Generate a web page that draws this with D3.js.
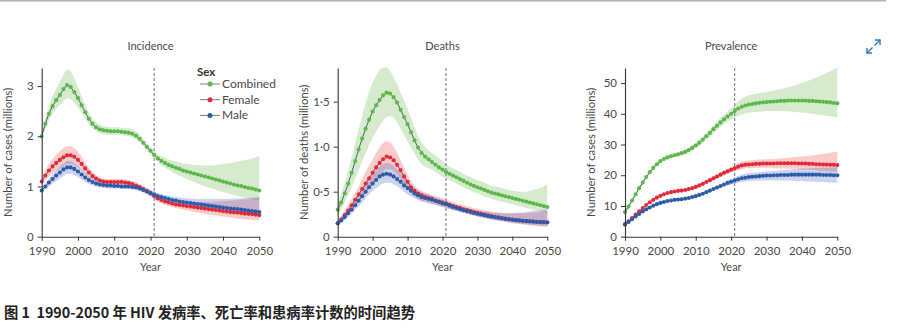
<!DOCTYPE html>
<html><head><meta charset="utf-8">
<script src="https://cdn.jsdelivr.net/npm/d3@7"></script>
<style>
body{margin:0;background:#fff;}
text{font-family:Lato,"Noto Sans",sans-serif;}
</style></head>
<body><svg id="c" width="909" height="335"></svg>
<script>
// ---------- DATA ----------
const years = d3.range(1990, 2051);
const xTicks = [1990, 2000, 2010, 2020, 2030, 2040, 2050];
const panelTitles = ["Incidence", "Deaths", "Prevalence"];
const yLabels = ["Number of cases (millions)", "Number of deaths (millions)", "Number of cases (millions)"];
const incTicks = [0, 1, 2, 3];
const incTickLabels = ["0", "1", "2", "3"];
const dthTicks = [0, 0.5, 1.0, 1.5];
const dthTickLabels = ["0", "0·5", "1·0", "1·5"];
const prvTicks = [0, 10, 20, 30, 40, 50];
const prvTickLabels = ["0", "10", "20", "30", "40", "50"];
const seriesNames = ["Combined", "Female", "Male"];
const projectionStart = 2021;

const incCombined = [2.00,2.25,2.45,2.60,2.72,2.82,2.94,3.02,2.98,2.88,2.76,2.62,2.48,2.35,2.25,2.18,2.14,2.12,2.11,2.10,2.10,2.10,2.09,2.08,2.07,2.05,2.01,1.95,1.87,1.79,1.71,1.63,1.56,1.51,1.47,1.43,1.40,1.37,1.35,1.32,1.30,1.28,1.26,1.24,1.22,1.20,1.18,1.16,1.14,1.12,1.10,1.08,1.06,1.04,1.02,1.01,0.99,0.97,0.96,0.94,0.92];
const incCombinedLo = [1.95,2.15,2.32,2.45,2.55,2.63,2.70,2.76,2.74,2.67,2.58,2.47,2.36,2.25,2.16,2.10,2.06,2.04,2.03,2.03,2.03,2.03,2.02,2.01,2.00,1.98,1.94,1.88,1.81,1.73,1.65,1.57,1.49,1.43,1.38,1.33,1.29,1.25,1.22,1.18,1.15,1.12,1.09,1.06,1.03,1.00,0.98,0.96,0.94,0.91,0.89,0.87,0.85,0.83,0.81,0.79,0.78,0.76,0.75,0.73,0.72];
const incCombinedHi = [2.05,2.35,2.60,2.80,2.95,3.08,3.22,3.33,3.30,3.15,2.98,2.80,2.62,2.47,2.36,2.28,2.23,2.20,2.19,2.18,2.18,2.18,2.17,2.16,2.16,2.14,2.10,2.04,1.95,1.86,1.78,1.70,1.64,1.60,1.57,1.54,1.52,1.50,1.48,1.46,1.45,1.44,1.43,1.43,1.42,1.42,1.42,1.42,1.43,1.44,1.45,1.46,1.47,1.48,1.50,1.51,1.53,1.54,1.56,1.58,1.60];
const incFemale = [1.10,1.22,1.32,1.40,1.47,1.53,1.58,1.62,1.62,1.59,1.53,1.45,1.36,1.28,1.21,1.16,1.12,1.10,1.09,1.09,1.09,1.09,1.09,1.08,1.07,1.05,1.02,0.99,0.95,0.91,0.86,0.81,0.76,0.73,0.70,0.68,0.66,0.64,0.63,0.62,0.61,0.60,0.59,0.58,0.57,0.56,0.55,0.54,0.53,0.52,0.51,0.50,0.49,0.485,0.48,0.47,0.46,0.455,0.45,0.44,0.43];
const incFemaleLo = [1.05,1.13,1.20,1.26,1.31,1.36,1.41,1.45,1.45,1.43,1.38,1.32,1.25,1.19,1.13,1.09,1.06,1.04,1.03,1.03,1.03,1.03,1.03,1.02,1.01,0.99,0.96,0.93,0.89,0.85,0.80,0.75,0.70,0.66,0.63,0.61,0.59,0.57,0.55,0.54,0.52,0.51,0.49,0.48,0.47,0.45,0.44,0.43,0.42,0.41,0.40,0.39,0.38,0.37,0.36,0.36,0.35,0.34,0.34,0.33,0.33];
const incFemaleHi = [1.15,1.31,1.45,1.55,1.63,1.70,1.76,1.80,1.80,1.76,1.69,1.59,1.48,1.38,1.30,1.23,1.18,1.16,1.15,1.15,1.15,1.15,1.15,1.14,1.13,1.11,1.08,1.05,1.01,0.97,0.92,0.87,0.82,0.79,0.77,0.75,0.73,0.72,0.71,0.70,0.70,0.69,0.69,0.69,0.69,0.69,0.69,0.69,0.70,0.70,0.71,0.71,0.72,0.72,0.73,0.74,0.74,0.75,0.76,0.77,0.78];
const incMale = [0.92,1.00,1.08,1.15,1.22,1.28,1.34,1.38,1.38,1.35,1.30,1.24,1.18,1.13,1.09,1.06,1.04,1.03,1.02,1.02,1.01,1.01,1.00,1.00,1.00,0.99,0.98,0.96,0.93,0.90,0.87,0.84,0.81,0.79,0.77,0.75,0.73,0.72,0.70,0.69,0.68,0.67,0.66,0.65,0.64,0.63,0.62,0.61,0.60,0.59,0.58,0.57,0.56,0.555,0.55,0.54,0.53,0.52,0.51,0.50,0.49];
const incMaleLo = [0.88,0.94,1.00,1.06,1.11,1.16,1.21,1.25,1.25,1.23,1.19,1.14,1.09,1.05,1.02,0.99,0.98,0.97,0.96,0.96,0.96,0.96,0.95,0.95,0.95,0.94,0.93,0.91,0.88,0.85,0.82,0.79,0.76,0.73,0.71,0.69,0.67,0.65,0.64,0.62,0.61,0.60,0.58,0.57,0.56,0.55,0.54,0.52,0.51,0.50,0.49,0.48,0.47,0.46,0.45,0.45,0.44,0.43,0.42,0.41,0.40];
const incMaleHi = [0.96,1.06,1.16,1.24,1.32,1.40,1.46,1.51,1.51,1.47,1.41,1.34,1.27,1.21,1.16,1.13,1.10,1.09,1.08,1.08,1.07,1.07,1.06,1.06,1.06,1.05,1.04,1.02,0.99,0.96,0.93,0.90,0.87,0.85,0.83,0.82,0.80,0.79,0.78,0.77,0.77,0.76,0.76,0.75,0.75,0.75,0.75,0.75,0.75,0.75,0.75,0.75,0.75,0.76,0.76,0.76,0.77,0.77,0.78,0.78,0.79];

const dthCombined = [0.30,0.38,0.48,0.59,0.71,0.84,0.97,1.09,1.20,1.30,1.39,1.46,1.52,1.57,1.60,1.59,1.55,1.49,1.41,1.33,1.25,1.16,1.07,0.99,0.93,0.89,0.86,0.83,0.80,0.77,0.745,0.72,0.70,0.68,0.66,0.64,0.62,0.60,0.58,0.565,0.55,0.535,0.52,0.505,0.49,0.48,0.47,0.46,0.45,0.44,0.43,0.42,0.41,0.40,0.39,0.38,0.37,0.36,0.35,0.34,0.33];
const dthCombinedLo = [0.25,0.31,0.38,0.46,0.55,0.64,0.74,0.84,0.93,1.02,1.10,1.17,1.23,1.29,1.33,1.34,1.32,1.27,1.20,1.13,1.06,0.99,0.92,0.86,0.81,0.78,0.76,0.74,0.72,0.69,0.67,0.65,0.63,0.61,0.59,0.57,0.55,0.53,0.51,0.495,0.48,0.465,0.45,0.435,0.42,0.41,0.40,0.39,0.38,0.37,0.36,0.35,0.34,0.33,0.32,0.31,0.30,0.29,0.28,0.27,0.26];
const dthCombinedHi = [0.38,0.48,0.60,0.73,0.88,1.03,1.19,1.34,1.48,1.61,1.71,1.79,1.85,1.88,1.88,1.84,1.77,1.69,1.60,1.51,1.42,1.32,1.22,1.12,1.05,1.00,0.96,0.93,0.90,0.87,0.84,0.81,0.78,0.76,0.74,0.72,0.70,0.68,0.66,0.645,0.63,0.615,0.60,0.585,0.57,0.56,0.55,0.54,0.53,0.52,0.51,0.505,0.50,0.50,0.50,0.51,0.52,0.53,0.545,0.56,0.58];
const dthFemale = [0.15,0.19,0.24,0.29,0.35,0.41,0.47,0.53,0.59,0.65,0.71,0.77,0.82,0.86,0.89,0.88,0.85,0.80,0.74,0.67,0.61,0.55,0.51,0.48,0.46,0.44,0.43,0.42,0.40,0.39,0.38,0.37,0.355,0.34,0.33,0.32,0.305,0.295,0.285,0.275,0.265,0.255,0.245,0.237,0.23,0.222,0.215,0.208,0.202,0.196,0.19,0.186,0.182,0.178,0.175,0.172,0.169,0.166,0.164,0.162,0.16];
const dthFemaleLo = [0.12,0.16,0.20,0.24,0.29,0.34,0.39,0.44,0.49,0.54,0.59,0.64,0.68,0.72,0.75,0.75,0.73,0.69,0.64,0.58,0.53,0.48,0.45,0.42,0.40,0.39,0.38,0.37,0.355,0.345,0.335,0.325,0.31,0.30,0.29,0.28,0.265,0.255,0.245,0.235,0.225,0.215,0.205,0.197,0.19,0.182,0.175,0.168,0.162,0.156,0.15,0.145,0.14,0.136,0.132,0.128,0.124,0.12,0.117,0.114,0.11];
const dthFemaleHi = [0.18,0.23,0.29,0.35,0.42,0.49,0.56,0.64,0.72,0.79,0.86,0.93,0.99,1.04,1.06,1.05,1.00,0.93,0.85,0.77,0.69,0.62,0.57,0.53,0.51,0.49,0.48,0.46,0.45,0.44,0.43,0.415,0.40,0.385,0.37,0.36,0.35,0.34,0.33,0.32,0.31,0.30,0.29,0.285,0.28,0.275,0.27,0.265,0.26,0.26,0.26,0.26,0.26,0.26,0.26,0.265,0.27,0.27,0.275,0.28,0.28];
const dthMale = [0.15,0.18,0.22,0.26,0.30,0.35,0.40,0.45,0.50,0.55,0.59,0.63,0.67,0.69,0.70,0.69,0.67,0.64,0.61,0.57,0.54,0.51,0.48,0.46,0.44,0.43,0.42,0.41,0.40,0.385,0.37,0.36,0.345,0.33,0.318,0.306,0.295,0.284,0.274,0.264,0.255,0.246,0.238,0.23,0.223,0.216,0.21,0.204,0.198,0.193,0.188,0.184,0.18,0.176,0.173,0.17,0.167,0.164,0.162,0.16,0.158];
const dthMaleLo = [0.12,0.15,0.18,0.22,0.26,0.30,0.34,0.38,0.43,0.47,0.51,0.54,0.57,0.59,0.60,0.60,0.58,0.56,0.53,0.50,0.47,0.45,0.43,0.41,0.39,0.38,0.37,0.36,0.355,0.345,0.33,0.32,0.305,0.295,0.285,0.275,0.265,0.255,0.245,0.235,0.225,0.215,0.207,0.20,0.193,0.186,0.18,0.174,0.168,0.162,0.157,0.152,0.147,0.142,0.138,0.134,0.13,0.126,0.122,0.118,0.115];
const dthMaleHi = [0.18,0.22,0.27,0.31,0.36,0.42,0.47,0.53,0.59,0.65,0.70,0.74,0.78,0.81,0.82,0.81,0.79,0.75,0.71,0.66,0.62,0.58,0.54,0.51,0.49,0.48,0.47,0.455,0.44,0.425,0.41,0.395,0.38,0.365,0.35,0.34,0.33,0.32,0.31,0.30,0.29,0.285,0.28,0.275,0.27,0.265,0.26,0.26,0.26,0.26,0.26,0.265,0.27,0.27,0.275,0.28,0.285,0.29,0.295,0.30,0.30];

const prvCombined = [8.0,9.8,11.8,13.8,15.8,17.6,19.4,21.0,22.4,23.6,24.6,25.3,25.8,26.2,26.5,26.8,27.2,27.6,28.2,28.9,29.7,30.6,31.6,32.7,33.8,35.0,36.1,37.2,38.2,39.1,40.0,40.9,41.7,42.3,42.7,43.0,43.2,43.4,43.6,43.7,43.8,43.9,44.0,44.1,44.2,44.2,44.3,44.3,44.3,44.3,44.3,44.3,44.2,44.2,44.1,44.0,43.9,43.8,43.7,43.5,43.4];
const prvCombinedLo = [7.5,9.3,11.3,13.3,15.3,17.1,18.9,20.4,21.8,23.0,24.0,24.7,25.2,25.6,25.9,26.2,26.5,26.9,27.4,28.1,28.8,29.6,30.6,31.6,32.6,33.7,34.7,35.7,36.6,37.4,38.1,38.8,39.4,39.8,40.1,40.3,40.5,40.6,40.7,40.8,40.9,40.9,40.9,40.9,40.9,40.8,40.8,40.7,40.6,40.5,40.4,40.3,40.1,40.0,39.8,39.7,39.5,39.4,39.2,39.0,38.8];
const prvCombinedHi = [8.5,10.3,12.3,14.3,16.3,18.1,19.9,21.6,23.0,24.2,25.2,25.9,26.4,26.8,27.1,27.4,27.8,28.3,29.0,29.7,30.6,31.6,32.7,33.8,35.0,36.3,37.5,38.7,39.8,40.8,41.8,42.9,44.0,44.9,45.6,46.0,46.3,46.5,46.7,46.9,47.1,47.3,47.5,47.8,48.0,48.3,48.6,48.9,49.2,49.6,50.0,50.4,50.8,51.3,51.8,52.3,52.8,53.3,53.9,54.5,55.0];
const prvFemale = [4.0,5.0,6.1,7.2,8.3,9.3,10.3,11.2,12.0,12.7,13.3,13.8,14.2,14.5,14.7,14.9,15.0,15.2,15.5,15.8,16.2,16.7,17.2,17.8,18.4,19.0,19.6,20.2,20.8,21.3,21.8,22.3,22.8,23.2,23.4,23.5,23.6,23.7,23.7,23.8,23.8,23.8,23.8,23.9,23.9,23.9,23.9,23.9,23.9,23.8,23.8,23.8,23.7,23.7,23.6,23.6,23.5,23.5,23.4,23.4,23.3];
const prvFemaleLo = [3.7,4.7,5.8,6.9,8.0,9.0,10.0,10.9,11.7,12.4,13.0,13.5,13.9,14.2,14.4,14.6,14.7,14.9,15.1,15.4,15.8,16.2,16.7,17.3,17.8,18.4,18.9,19.5,20.0,20.4,20.9,21.3,21.7,22.0,22.2,22.3,22.3,22.4,22.4,22.4,22.4,22.4,22.3,22.3,22.3,22.2,22.2,22.1,22.1,22.0,21.9,21.9,21.8,21.7,21.6,21.5,21.4,21.3,21.2,21.1,21.0];
const prvFemaleHi = [4.3,5.3,6.4,7.5,8.6,9.6,10.6,11.5,12.3,13.0,13.6,14.1,14.5,14.8,15.0,15.2,15.3,15.5,15.9,16.2,16.6,17.2,17.7,18.3,19.0,19.6,20.3,20.9,21.6,22.2,22.7,23.3,23.9,24.4,24.7,24.8,24.9,25.0,25.1,25.1,25.2,25.3,25.3,25.4,25.5,25.6,25.7,25.8,25.9,26.0,26.1,26.2,26.3,26.5,26.6,26.8,26.9,27.1,27.3,27.5,27.7];
const prvMale = [4.0,4.8,5.7,6.6,7.4,8.2,8.9,9.5,10.1,10.6,11.0,11.3,11.6,11.8,12.0,12.1,12.2,12.4,12.6,12.9,13.2,13.6,14.0,14.5,15.0,15.5,16.0,16.5,17.0,17.5,17.9,18.3,18.7,19.0,19.2,19.4,19.5,19.6,19.7,19.8,19.9,19.9,20.0,20.0,20.1,20.1,20.1,20.2,20.2,20.2,20.2,20.2,20.2,20.2,20.2,20.2,20.1,20.1,20.1,20.0,20.0];
const prvMaleLo = [3.7,4.5,5.4,6.3,7.1,7.9,8.6,9.2,9.8,10.3,10.7,11.0,11.3,11.5,11.7,11.8,11.9,12.1,12.3,12.5,12.8,13.2,13.6,14.0,14.5,15.0,15.4,15.9,16.3,16.7,17.0,17.3,17.6,17.8,18.0,18.1,18.2,18.3,18.3,18.3,18.3,18.3,18.3,18.3,18.3,18.3,18.2,18.2,18.2,18.1,18.1,18.0,18.0,17.9,17.9,17.8,17.8,17.7,17.6,17.6,17.5];
const prvMaleHi = [4.3,5.1,6.0,6.9,7.7,8.5,9.2,9.8,10.4,10.9,11.3,11.6,11.9,12.1,12.3,12.4,12.5,12.7,12.9,13.3,13.6,14.0,14.4,15.0,15.5,16.0,16.6,17.1,17.7,18.3,18.8,19.3,19.8,20.2,20.5,20.7,20.8,20.9,21.0,21.1,21.2,21.3,21.4,21.5,21.6,21.7,21.8,21.9,22.0,22.1,22.2,22.2,22.3,22.3,22.4,22.4,22.5,22.5,22.6,22.6,22.7];

// ---------- STYLE / LAYOUT ----------
const markerColors = {Combined:"#5cb84a", Female:"#e3283a", Male:"#2b5ca8"};
const bandColors = {Combined:"rgba(128,190,100,0.32)", Female:"rgba(240,100,90,0.33)", Male:"rgba(90,105,200,0.30)"};
const lineColor = "#4f5f6a";
const textColor = "#4a4a4a";

const panels = [
  {title:panelTitles[0], ylab:yLabels[0], x0:41.7, x1:259.3, ymax:3.36, ticks:incTicks, tlab:incTickLabels,
   series:[[incCombined,incCombinedLo,incCombinedHi],[incFemale,incFemaleLo,incFemaleHi],[incMale,incMaleLo,incMaleHi]], legend:true},
  {title:panelTitles[1], ylab:yLabels[1], x0:337.7, x1:547.3, ymax:1.874, ticks:dthTicks, tlab:dthTickLabels,
   series:[[dthCombined,dthCombinedLo,dthCombinedHi],[dthFemale,dthFemaleLo,dthFemaleHi],[dthMale,dthMaleLo,dthMaleHi]]},
  {title:panelTitles[2], ylab:yLabels[2], x0:625, x1:837.3, ymax:54.9, ticks:prvTicks, tlab:prvTickLabels,
   series:[[prvCombined,prvCombinedLo,prvCombinedHi],[prvFemale,prvFemaleLo,prvFemaleHi],[prvMale,prvMaleLo,prvMaleHi]]}
];
const yBottom = 236.7, yTop = 68;

const svg = d3.select("#c");
svg.append("line").attr("x1",0).attr("x2",886).attr("y1",0.75).attr("y2",0.75)
  .attr("stroke","#b3b3b3").attr("stroke-width",1.5);

panels.forEach(p => {
  const x = d3.scaleLinear().domain([1990,2050]).range([p.x0,p.x1]);
  const y = d3.scaleLinear().domain([0,p.ymax]).range([yBottom,yTop]);
  const g = svg.append("g");

  p.series.forEach((s,i) => {
    const name = seriesNames[i];
    const area = d3.area().x((d,j)=>x(years[j])).y0((d,j)=>y(s[1][j])).y1((d,j)=>y(s[2][j])).curve(d3.curveMonotoneX);
    g.append("path").datum(s[0]).attr("d",area).attr("fill",bandColors[name]);
  });

  g.append("line").attr("x1",x(projectionStart)).attr("x2",x(projectionStart))
   .attr("y1",yTop).attr("y2",yBottom).attr("stroke","#5d7282").attr("stroke-width",1)
   .attr("stroke-dasharray","3,2");

  [0,1,2].forEach(i => {
    const s = p.series[i], name = seriesNames[i];
    const line = d3.line().x((d,j)=>x(years[j])).y(d=>y(d));
    g.append("path").datum(s[0]).attr("d",line).attr("fill","none").attr("stroke",lineColor).attr("stroke-width",1);
    g.selectAll(null).data(s[0]).enter().append("circle")
     .attr("cx",(d,j)=>x(years[j])).attr("cy",d=>y(d)).attr("r",2.05).attr("fill",markerColors[name]);
  });

  const xa = g.append("g").attr("transform",`translate(0,${yBottom})`)
    .call(d3.axisBottom(x).tickValues(xTicks).tickFormat(d3.format("d")).tickSize(4).tickSizeOuter(0));
  const ya = g.append("g").attr("transform",`translate(${p.x0},0)`)
    .call(d3.axisLeft(y).tickValues(p.ticks).tickFormat((d,i)=>p.tlab[i]).tickSize(4).tickSizeOuter(0));
  [xa,ya].forEach(a => {
    a.select(".domain").attr("stroke","#333").attr("stroke-width",1.1);
    a.selectAll(".tick line").attr("stroke","#333");
    a.selectAll(".tick text").attr("fill",textColor).style("font-size","11.5px").style("font-family","Lato");
  });
  xa.selectAll(".tick text").attr("dy","0.95em");
  ya.selectAll(".tick text").attr("dx","-1");

  const cx = (p.x0+p.x1)/2;
  g.append("text").attr("x",cx).attr("y",50).attr("text-anchor","middle").attr("fill",textColor)
    .style("font-size","11px").text(p.title);
  g.append("text").attr("x",cx).attr("y",271).attr("text-anchor","middle").attr("fill",textColor)
    .style("font-size","11px").text("Year");
  g.append("text").attr("transform",`translate(${p.x0-30},${(yTop+yBottom)/2}) rotate(-90)`)
    .attr("text-anchor","middle").attr("fill",textColor).style("font-size","11.3px").text(p.ylab);

  if (p.legend) {
    const lg = g.append("g");
    lg.append("text").attr("x",197).attr("y",76).attr("fill","#333").style("font-size","11.5px")
      .style("font-weight","bold").text("Sex");
    seriesNames.forEach((n,i) => {
      const yy = 84 + i*15.7;
      lg.append("line").attr("x1",200).attr("x2",220).attr("y1",yy).attr("y2",yy).attr("stroke","#6d8190").attr("stroke-width",1);
      lg.append("circle").attr("cx",210).attr("cy",yy).attr("r",2.5).attr("fill",markerColors[n]);
      lg.append("text").attr("x",222).attr("y",yy+4).attr("fill",textColor).style("font-size","12px").text(n);
    });
  }
});

const ic = svg.append("g").attr("stroke","#2b78b4").attr("stroke-width",1.4).attr("fill","none");
ic.append("path").attr("d","M867,53 L872.5,47.5 M874.5,45.5 L880,40");
ic.append("path").attr("d","M867,48 L867,53 L872,53");
ic.append("path").attr("d","M875,40 L880,40 L880,45");

svg.append("text").attr("x",4).attr("y",318).attr("fill","#222")
  .style("white-space","pre").attr("xml:space","preserve")
  .style("font-family","'Noto Sans CJK SC', 'Noto Sans', sans-serif").style("font-size","14.3px").style("font-weight","bold")
  .text("图 1  1990-2050 年 HIV 发病率、死亡率和患病率计数的时间趋势");
</script></body></html>
